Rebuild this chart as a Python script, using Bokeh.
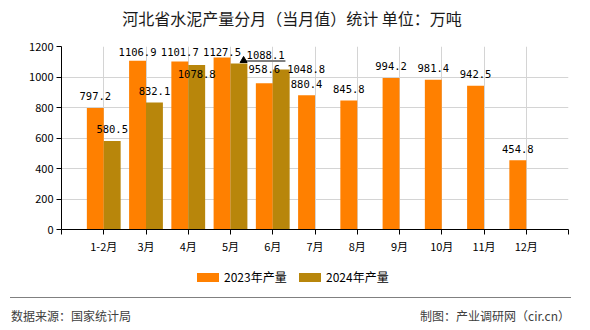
from bokeh.plotting import figure
from bokeh.models import Range1d, FixedTicker, ColumnDataSource, Div
from bokeh.layouts import column
from bokeh.embed import file_html
from bokeh.resources import INLINE
from bokeh.core.properties import value

# ---- data ----
months = ["1-2月", "3月", "4月", "5月", "6月", "7月", "8月", "9月", "10月", "11月", "12月"]
prod_2023 = [797.2, 1106.9, 1101.7, 1127.5, 958.6, 880.4, 845.8, 994.2, 981.4, 942.5, 454.8]
prod_2024 = [580.5, 832.1, 1078.8, 1088.1, 1048.8]
y_ticks = [0, 200, 400, 600, 800, 1000, 1200]
series_names = ["2023年产量", "2024年产量"]
title_text = "河北省水泥产量分月（当月值）统计 单位：万吨"
source_text = "数据来源：国家统计局"
credit_text = "制图：产业调研网（cir.cn）"

C23 = "#FF8000"
C24 = "#B8860B"
CN = "Noto Sans CJK SC"
MONO = value("DejaVu Sans Mono")

W = 590
TH = 30            # title strip height
H = 256 - TH       # plot height
FL, FR = 61, 568
FT, FB = 46 - TH, 229 - TH
n = len(months)
XMAX = n + 1
YMAX = 1200

# title
title_html = (
    f'<div style="position:relative;width:{W}px;height:{TH}px;">'
    f'<div style="position:absolute;left:0;width:{W - 6}px;top:8px;line-height:20px;text-align:center;'
    f'font-family:\'Noto Sans CJK SC\';font-size:16px;color:#1a1a1a;white-space:nowrap;">{title_text}</div>'
    '</div>'
)
title = Div(text=title_html, width=W, height=TH, margin=0)

p = figure(width=W, height=H, x_range=Range1d(0, XMAX), y_range=Range1d(0, YMAX),
           output_backend="svg", toolbar_location=None,
           min_border_left=FL, min_border_right=W - FR, min_border_top=FT, min_border_bottom=H - FB)
p.background_fill_color = "white"
p.border_fill_color = "white"
p.outline_line_color = None

pos23 = [i + 1 - 0.2 for i in range(n)]
pos24 = [i + 1 + 0.2 for i in range(len(prod_2024))]
src23 = ColumnDataSource(dict(x=pos23, top=prod_2023))
src24 = ColumnDataSource(dict(x=pos24, top=prod_2024))
p.vbar(x="x", top="top", width=0.4, source=src23, fill_color=C23, line_color=None)
p.vbar(x="x", top="top", width=0.4, source=src24, fill_color=C24, line_color=None)

# axes
p.xaxis.ticker = FixedTicker(ticks=list(range(0, XMAX + 1)))
overrides = {0: "", XMAX: ""}
for i, m in enumerate(months):
    overrides[i + 1] = m
p.xaxis.major_label_overrides = overrides
p.yaxis.ticker = FixedTicker(ticks=y_ticks)
for ax in (p.xaxis[0], p.yaxis[0]):
    ax.axis_line_color = "black"
    ax.major_tick_line_color = "black"
    ax.major_tick_in = 0
    ax.major_tick_out = 5
    ax.minor_tick_line_color = None
    ax.major_label_text_font = CN
    ax.major_label_text_font_size = "11px"
    ax.major_label_text_color = "black"
p.yaxis.major_label_standoff = 3
p.xaxis.major_label_standoff = 3
p.xgrid.ticker = FixedTicker(ticks=list(range(0, XMAX + 1)))
p.ygrid.ticker = FixedTicker(ticks=y_ticks)
p.xgrid.grid_line_color = "#d4d4d4"
p.ygrid.grid_line_color = "#d4d4d4"

# data labels
off = 76
cap = 1165
lx23 = list(pos23)
ly23 = [min(v + off, cap) for v in prod_2023]
ly23[4] = prod_2023[4] + 92
lx24 = list(pos24)
ly24 = [min(v + off, cap) for v in prod_2024]
ly24[2] = prod_2024[2] - 58
lx24[3] = pos24[3] + 0.63
ly24[3] = prod_2024[3] + 55
lx24[4] = pos24[4] + 0.59
ly24[4] = prod_2024[4] + 1

lab = ColumnDataSource(dict(x=lx23 + lx24, y=ly23 + ly24,
                            t=[f"{v:.1f}" for v in prod_2023] + [f"{v:.1f}" for v in prod_2024]))
p.text(x="x", y="y", text="t", source=lab, text_align="center", text_baseline="middle",
       text_font=MONO, text_font_size="10.5px", text_color="black")

# leader line for 1088.1
ly_lead = prod_2024[3] + 16
p.segment(x0=[pos24[3] + 0.11], y0=[ly_lead], x1=[pos24[3] + 1.1], y1=[ly_lead],
          line_color="#808080", line_width=2)
p.scatter(x=[pos24[3] + 0.11], y=[ly_lead + 4], marker="triangle", size=7,
          fill_color="black", line_color="black")

# legend + footer (HTML below the plot)
FH = 330 - 256
footer_html = (
    f'<div style="position:relative;width:{W}px;height:{FH}px;font-family:\'Noto Sans CJK SC\';'
    f'font-size:12px;color:#404040;">'
    f'<div style="position:absolute;left:197px;top:17px;width:22px;height:9px;background:{C23};"></div>'
    f'<div style="position:absolute;left:224px;top:13px;line-height:16px;color:#000;white-space:nowrap;">{series_names[0]}</div>'
    f'<div style="position:absolute;left:299px;top:17px;width:22px;height:9px;background:{C24};"></div>'
    f'<div style="position:absolute;left:326px;top:13px;line-height:16px;color:#000;white-space:nowrap;">{series_names[1]}</div>'
    '<div style="position:absolute;left:10px;top:41px;width:561px;height:0;'
    'border-top:1.5px solid #808080;"></div>'
    f'<div style="position:absolute;left:11px;top:52px;line-height:16px;white-space:nowrap;">{source_text}</div>'
    f'<div style="position:absolute;right:20px;top:52px;line-height:16px;white-space:nowrap;">{credit_text}</div>'
    '</div>'
)
footer = Div(text=footer_html, width=W, height=FH, margin=0)

layout = column(title, p, footer, spacing=0)
open("out.html", "w").write(file_html(layout, INLINE))
